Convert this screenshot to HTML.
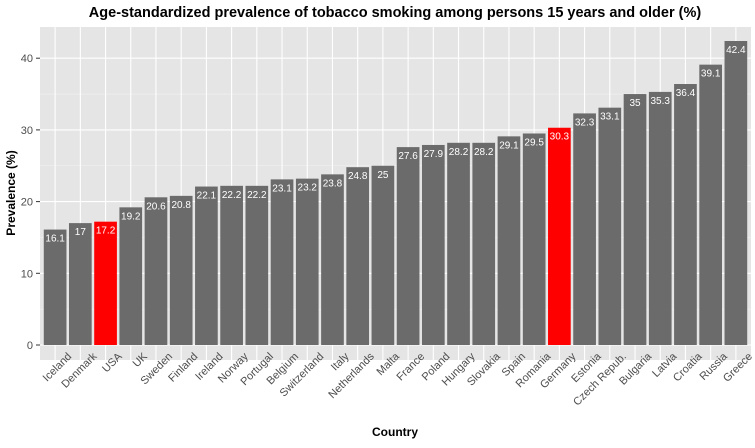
<!DOCTYPE html>
<html><head><meta charset="utf-8"><style>
body{margin:0;background:#fff;}
svg text{font-family:"Liberation Sans",Arial,sans-serif;}
</style></head><body>
<svg id="chart" width="755" height="443" viewBox="0 0 755 443" xmlns="http://www.w3.org/2000/svg">
<rect width="755" height="443" fill="#fff"/>
<text x="395" y="17" text-anchor="middle" font-size="14.5" font-weight="bold" fill="#000">Age-standardized prevalence of tobacco smoking among persons 15 years and older (%)</text>
<rect x="40" y="27" width="711" height="333" fill="#e5e5e5"/>
<g id="grid"></g><g id="bars"></g><g id="axes"></g>
<text transform="translate(15,193) rotate(-90)" text-anchor="middle" font-size="12" font-weight="bold" fill="#000">Prevalence (%)</text>
<text x="395" y="436" text-anchor="middle" font-size="12" font-weight="bold" fill="#000">Country</text>
</svg>
<script>
const categories=["Iceland","Denmark","USA","UK","Sweden","Finland","Ireland","Norway","Portugal","Belgium","Switzerland","Italy","Netherlands","Malta","France","Poland","Hungary","Slovakia","Spain","Romania","Germany","Estonia","Czech Repub.","Bulgaria","Latvia","Croatia","Russia","Greece"];
const values=[16.1,17,17.2,19.2,20.6,20.8,22.1,22.2,22.2,23.1,23.2,23.8,24.8,25,27.6,27.9,28.2,28.2,29.1,29.5,30.3,32.3,33.1,35,35.3,36.4,39.1,42.4];
const highlighted=[2,20];
const yTicks=[0,10,20,30,40];
const NS="http://www.w3.org/2000/svg";
const panelL=40,panelR=751,y0=345,pxPer=7.17;
const step=(panelR-panelL)/(categories.length+0.2);
const xc=i=>panelL+step*(i+0.6);
const y=v=>y0-v*pxPer;
function mk(tag,attrs,parent){const e=document.createElementNS(NS,tag);for(const k in attrs)e.setAttribute(k,attrs[k]);parent.appendChild(e);return e;}
const grid=document.getElementById('grid'),bars=document.getElementById('bars'),axes=document.getElementById('axes');
for(let v=5;v<45;v+=10){const l=mk('line',{x1:panelL,x2:panelR,y1:y(v),y2:y(v),stroke:'#f2f2f2','stroke-width':0.6},grid);

}
yTicks.forEach(v=>{const l=mk('line',{x1:panelL,x2:panelR,y1:y(v),y2:y(v),stroke:'#fff','stroke-width':1.1},grid);


const t=mk('line',{x1:36,x2:40,y1:y(v),y2:y(v),stroke:'#333','stroke-width':1},axes);


const tx=mk('text',{x:33,y:y(v)+4,'text-anchor':'end','font-size':11,fill:'#4d4d4d'},axes);tx.textContent=v;

});
categories.forEach((c,i)=>{const x=xc(i);
const g=mk('line',{x1:x,x2:x,y1:27,y2:360,stroke:'#fff','stroke-width':1.1},grid);


const w=step*0.9;
const r=mk('rect',{x:x-w/2,y:y(values[i]),width:w,height:y0-y(values[i]),fill:highlighted.includes(i)?'#ff0000':'#6b6b6b'},bars);


const vl=mk('text',{x:x,y:y(values[i])+12,'text-anchor':'middle','font-size':10,fill:'#fff'},bars);vl.textContent=values[i];


const tl=mk('text',{transform:`translate(${x+17},${357}) rotate(-45)`,'text-anchor':'end','font-size':11,fill:'#4d4d4d'},axes);tl.textContent=c;

});
</script>
</body></html>
